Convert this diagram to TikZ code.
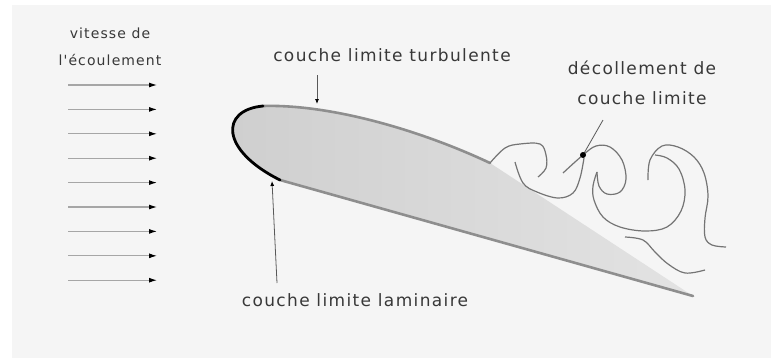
\documentclass[tikz,border=0pt]{standalone}
\usepackage{fontspec}
\newfontfamily\lblfont{DejaVu Sans}[LetterSpace=8]
\usetikzlibrary{arrows.meta}

\definecolor{bggray}{HTML}{F5F5F5}
\definecolor{edgegray}{HTML}{8E8E8E}
\definecolor{txtgray}{HTML}{383838}
\definecolor{swirl}{HTML}{747474}

\tikzset{
  lbl/.style={text=txtgray, inner sep=0pt, align=center, font=\lblfont\fontsize{17}{30}\selectfont},
  smalllbl/.style={lbl, font=\lblfont\fontsize{14}{27}\selectfont},
  flow/.style={draw=gray!70, line width=1.1pt, -{Latex[length=8pt,width=5pt,color=black]}},
  pointer/.style={draw=black!65, line width=0.8pt, -{Latex[length=5pt,width=4pt,color=black]}},
  vortex/.style={draw=swirl, line width=1.2pt, smooth, tension=0.6},
}

\begin{document}
\begin{tikzpicture}[x=1pt, y=-1pt]
      % frame
      \fill[white] (0,0) rectangle (771,360);
      \fill[bggray] (12,5) rectangle (771,358);

      % incoming flow
      \node[smalllbl] (speed) at (110,47) {vitesse de\\l'écoulement};
      \foreach \i in {0,...,8}
        \draw[flow] (68,85+24.4*\i) -- (157,85+24.4*\i);

      % wing section
      \shade[left color=black!19, right color=black!11]
        (263,106) .. controls (330,104) and (420,130) .. (490,163)
        -- (693,296) -- (280,180)
        .. controls (220,150) and (220,110) .. (263,106) -- cycle;
      \draw[edgegray, line width=2.6pt, line cap=round]
        (263,106) .. controls (330,104) and (420,130) .. (490,163);
      \draw[edgegray, line width=2.6pt, line cap=round] (280,180) -- (693,296);
      \draw[black, line width=2.8pt, line cap=round]
        (263,106) .. controls (220,110) and (220,150) .. (280,180);

      % eddies behind the wing
      \draw[vortex] plot coordinates {(490,163) (505,148) (520,144) (540,144) (546,155) (546,168) (538,177)};
      \draw[vortex] plot coordinates {(515,162) (523,183) (537,192) (558,198) (573,193) (580,178) (584,158)};
      \draw[vortex] plot coordinates {(563,173) (583,155) (596,146) (610,147) (622,160) (626,179) (620,192) (607,194) (599,186) (597,172)};
      \draw[vortex] plot coordinates {(597,172) (593,186) (594,200) (603,217) (620,227) (645,231) (667,227) (681,211) (685,190) (679,169) (667,158) (655,155)};
      \draw[vortex] plot coordinates {(648,180) (650,160) (662,146) (678,147) (694,157) (704,173) (708,196) (705,218) (705,237) (712,245) (726,247)};
      \draw[vortex] plot coordinates {(625,237) (643,240) (655,252) (668,264) (685,273) (705,270)};

      % labels and pointers
      \node[lbl] (turb) at (392,55) {couche limite turbulente};
      \node[lbl] (lam) at (355,300) {couche limite laminaire};
      \node[lbl] (sep) at (642,83) {décollement de\\couche limite};

      \coordinate (turbfrom) at (317,75);
      \coordinate (turbto) at (317,104);
      \coordinate (lamfrom) at (277,283);
      \coordinate (lamto) at (272,181);
      \coordinate (sepfrom) at (603,120);
      \coordinate (septo) at (583,155);
      \draw[pointer] (turbfrom) -- (turbto);
      \draw[pointer] (lamfrom) -- (lamto);
      \draw[draw=black!65, line width=0.8pt] (sepfrom) -- (septo);
      \fill[black] (septo) circle (3pt);
    \end{tikzpicture}
\end{document}
